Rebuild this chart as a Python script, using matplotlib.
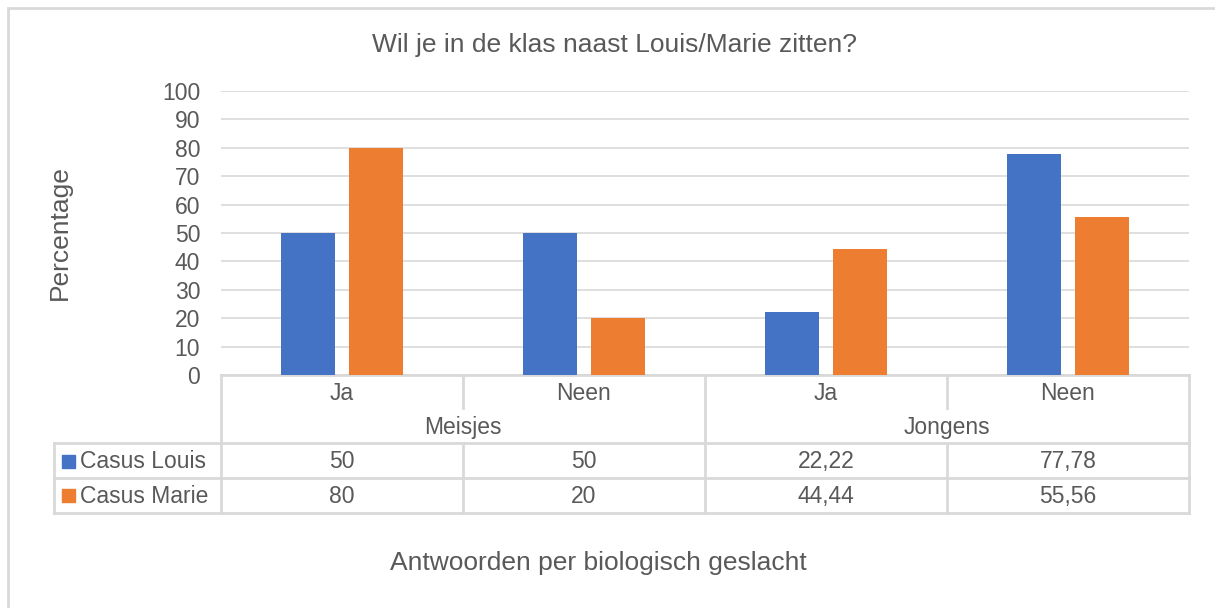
import matplotlib.pyplot as plt
import numpy as np
from matplotlib.patches import Rectangle

plt.rcParams['font.family'] = ['Liberation Sans', 'DejaVu Sans']

# chart data
groups = ["Meisjes", "Jongens"]
answers = ["Ja", "Neen", "Ja", "Neen"]
series_names = ["Casus Louis", "Casus Marie"]
louis = [50, 50, 22.22, 77.78]
marie = [80, 20, 44.44, 55.56]
louis_labels = ["50", "50", "22,22", "77,78"]
marie_labels = ["80", "20", "44,44", "55,56"]

BLUE = "#4472C4"
ORANGE = "#ED7D31"
TXT = "#595959"
LINE = "#D9D9D9"

W, H = 1215, 608
fig = plt.figure(figsize=(W / 100, H / 100), dpi=100)

# axes placed in pixel terms
left, right, top, bottom = 221, 1189, 91, 375
ax = fig.add_axes([left / W, 1 - bottom / H, (right - left) / W, (bottom - top) / H])

x = np.arange(len(answers))
bw = 0.223
off = 0.142
ax.bar(x - off, louis, bw, color=BLUE, zorder=3)
ax.bar(x + off, marie, bw, color=ORANGE, zorder=3)

ax.set_xlim(-0.5, 3.5)
ax.set_ylim(0, 100)
ax.set_yticks(range(0, 101, 10))
ax.set_xticks([])
ax.tick_params(axis="y", length=0, pad=15, labelsize=16.5, labelcolor=TXT)
for s in ax.spines.values():
    s.set_visible(False)
ax.grid(axis="y", color=LINE, linewidth=1.2, zorder=0)
ax.set_ylabel("Percentage", fontsize=19, color=TXT, va="center")
ax.yaxis.set_label_coords((60 - left) / (right - left), 0.5)

# data table under the plot
tr = ax.get_xaxis_transform()
tra = ax.transAxes
lw = 2
r1, r2, r3, r4 = -0.116, -0.239, -0.363, -0.486
leg_left = (54 - left) / (right - left)

ax.plot([-0.5, 3.5], [0, 0], color=LINE, lw=lw, transform=tr, clip_on=False)
for xv in [-0.5, 1.5, 3.5]:
    ax.plot([xv, xv], [0, r4], color=LINE, lw=lw, transform=tr, clip_on=False)
for xv in [0.5, 2.5]:
    ax.plot([xv, xv], [0, r1], color=LINE, lw=lw, transform=tr, clip_on=False)
    ax.plot([xv, xv], [r2, r4], color=LINE, lw=lw, transform=tr, clip_on=False)
for yv in [r2, r3, r4]:
    ax.plot([leg_left, 1], [yv, yv], color=LINE, lw=lw, transform=tra, clip_on=False)
ax.plot([leg_left, leg_left], [r2, r4], color=LINE, lw=lw, transform=tra, clip_on=False)

fs = 16.5
for i, a in enumerate(answers):
    ax.text(i, -0.064, a, ha="center", va="center", fontsize=fs, color=TXT, transform=tr)
for g, gx in zip(groups, [0.5, 2.5]):
    ax.text(gx, -0.185, g, ha="center", va="center", fontsize=fs, color=TXT, transform=tr)
for i in range(len(answers)):
    ax.text(i, -0.306, louis_labels[i], ha="center", va="center", fontsize=fs, color=TXT, transform=tr)
    ax.text(i, -0.429, marie_labels[i], ha="center", va="center", fontsize=fs, color=TXT, transform=tr)

# legend keys in the table
sq_w = 13 / (right - left)
sq_h = 13 / (bottom - top)
for name, col, yc in zip(series_names, [BLUE, ORANGE], [-0.303, -0.426]):
    ax.add_patch(Rectangle(((62 - left) / (right - left), yc - sq_h / 2), sq_w, sq_h,
                           color=col, transform=tra, clip_on=False))
    ax.text((80 - left) / (right - left), yc - 0.003, name, ha="left", va="center",
            fontsize=fs, color=TXT, transform=tra)

fig.text(614 / W, 1 - 45 / H, "Wil je in de klas naast Louis/Marie zitten?",
         ha="center", va="center", fontsize=19, color=TXT)
fig.text(598 / W, 1 - 563 / H, "Antwoorden per biologisch geslacht",
         ha="center", va="center", fontsize=19, color=TXT)

# chart border (runs off the right and bottom edges)
fig.patches.append(Rectangle((8 / W, -0.1), 1.2, 1.1 - 8 / H, fill=False,
                             edgecolor=LINE, lw=2, transform=fig.transFigure))

fig.savefig("out.png", dpi=100, facecolor="white")
